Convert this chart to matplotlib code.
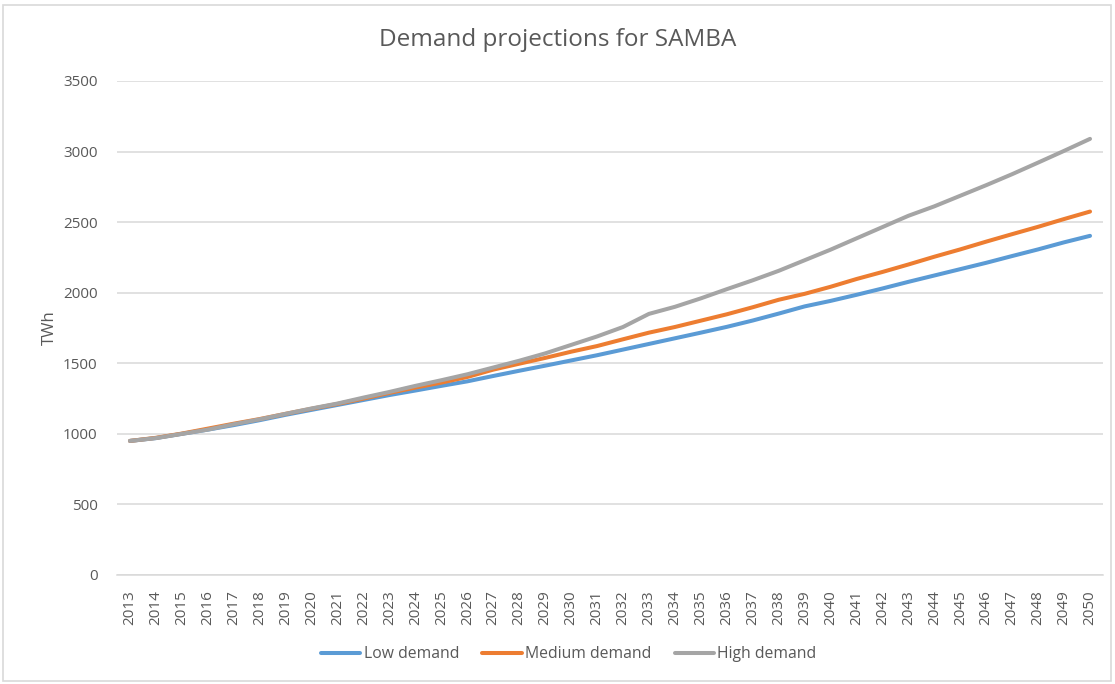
import matplotlib.pyplot as plt
import numpy as np
from matplotlib.patches import Rectangle

years = list(range(2013, 2051))
low_demand = [950, 970, 1000, 1030, 1062, 1097, 1135, 1170, 1205, 1240,
              1275, 1307, 1340, 1372, 1410, 1447, 1483, 1520, 1557, 1597,
              1637, 1677, 1717, 1758, 1803, 1852, 1903, 1942, 1985, 2030,
              2077, 2122, 2167, 2212, 2260, 2307, 2357, 2403]
medium_demand = [950, 972, 1002, 1037, 1072, 1105, 1142, 1178, 1212, 1250,
                 1290, 1328, 1363, 1403, 1455, 1497, 1538, 1582, 1622, 1670,
                 1717, 1757, 1802, 1847, 1897, 1950, 1992, 2042, 2097, 2147,
                 2200, 2255, 2307, 2362, 2415, 2467, 2522, 2575]
high_demand = [950, 970, 1000, 1030, 1068, 1103, 1142, 1180, 1215, 1257,
               1297, 1340, 1380, 1422, 1470, 1518, 1570, 1630, 1690, 1757,
               1850, 1900, 1960, 2025, 2088, 2155, 2230, 2305, 2385, 2465,
               2545, 2612, 2687, 2762, 2840, 2922, 3005, 3090]

fig = plt.figure(figsize=(11.15, 6.84), dpi=100)
plt.rcParams['font.family'] = ['Open Sans', 'DejaVu Sans']
ax = fig.add_axes([117/1115, 1-575/684, (1103-117)/1115, (575-81)/684])

x = np.arange(len(years))
ax.plot(x, low_demand, color='#5B9BD5', lw=2.9, label='Low demand', solid_capstyle='round')
ax.plot(x, medium_demand, color='#ED7D31', lw=2.9, label='Medium demand', solid_capstyle='round')
ax.plot(x, high_demand, color='#A5A5A5', lw=2.9, label='High demand', solid_capstyle='round')

ax.set_xlim(-0.5, len(years) - 0.5)
ax.set_ylim(0, 3500)
ax.set_yticks(np.arange(0, 3501, 500))
ax.set_xticks(x)
ax.set_xticklabels([str(y) for y in years], rotation=90)
ax.tick_params(axis='both', length=0, labelsize=11, labelcolor='#595959')
ax.tick_params(axis='y', pad=14)
ax.tick_params(axis='x', pad=11)
ax.grid(axis='y', color='#D9D9D9', lw=1.1)
ax.set_axisbelow(True)
for s in ['top', 'right', 'left']:
    ax.spines[s].set_visible(False)
ax.spines['bottom'].set_color('#D9D9D9')
ax.spines['bottom'].set_linewidth(1.1)

ax.set_ylabel('TWh', fontsize=12, color='#595959', labelpad=4)
fig.text(0.5, 1-40/684, 'Demand projections for SAMBA', ha='center', va='center',
         fontsize=17.5, color='#595959')

fig.legend(loc='center', bbox_to_anchor=(0.51, 1-654/684), ncol=3, frameon=False,
           fontsize=11.3, labelcolor='#595959', handlelength=2.5, handletextpad=0.2,
           columnspacing=1.5)

fig.patches.append(Rectangle((3/1115, 3/684), 1-7/1115, 1-8/684, transform=fig.transFigure,
                             fill=False, edgecolor='#D9D9D9', lw=1.2))

fig.savefig('out.png', dpi=100)
